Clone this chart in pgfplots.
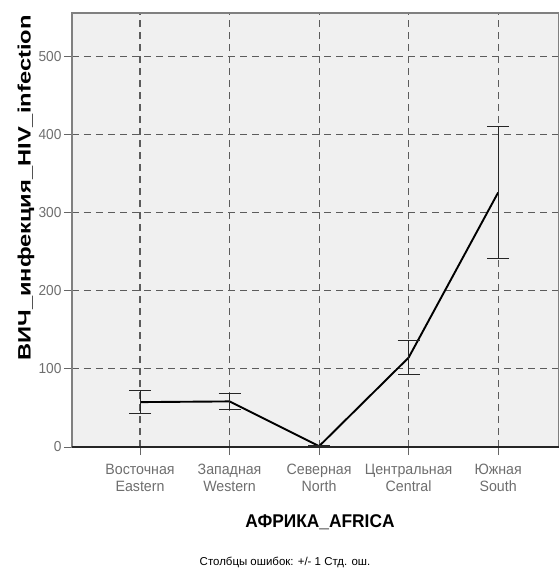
\documentclass[border=0pt]{standalone}
\usepackage{pgfplots}
\pgfplotsset{compat=1.18}
\usepackage{fontspec}
\setmainfont{Liberation Sans}
\newfontfamily\tickfont[FakeStretch=0.95]{Liberation Sans}
\newfontfamily\ylabfont[FakeStretch=1.32]{Liberation Sans}
\newfontfamily\xlabfont[FakeStretch=0.94]{Liberation Sans}
\definecolor{bgc}{HTML}{F0F0F0}
\definecolor{gridc}{HTML}{5C5C5C}
\definecolor{tickc}{HTML}{6E6E6E}
\begin{document}
\begin{tikzpicture}[x=1bp,y=1bp]
\begin{axis}[
  at={(0,0)}, anchor=south west,
  scale only axis, width=487bp, height=434bp,
  xmin=-0.76, xmax=4.68, ymin=0, ymax=556,
  xtick={0,1,2,3,4},
  xticklabels={{Восточная\\Eastern},{Западная\\Western},{Северная\\North},{Центральная\\Central},{Южная\\South}},
  xticklabel style={align=center, font=\tickfont\fontsize{15}{17}\selectfont, text=tickc, yshift=-6bp},
  ytick={0,100,200,300,400,500},
  yticklabel style={font=\tickfont\fontsize{14.5}{16}\selectfont, text=tickc, xshift=1bp},
  /pgf/number format/assume math mode=true,
  grid=major,
  grid style={gridc, line width=1.1bp, dash pattern=on 7bp off 5bp},
  axis background/.style={fill=bgc},
  axis line style={gray, line width=1.5bp},
  tick align=outside, major tick length=8bp,
  tick style={gray!80!black, line width=0.9bp},
  xtick pos=bottom, ytick pos=left,
  clip=false,
]
\addplot[black, line width=1.9bp, mark=none,
  error bars/.cd, y dir=both, y explicit,
  error bar style={black!85, line width=0.9bp},
  error mark options={rotate=90, black!85, line width=0.9bp, mark size=11bp}]
  coordinates {
    (0,57.5) +- (0,15)
    (1,58.4) +- (0,10)
    (2,1) +- (0,1)
    (3,114.5) +- (0,22)
    (4,326) +- (0,85)
  };
\draw[black!85, line width=1.2bp] (axis cs:-0.76,0) -- (axis cs:4.68,0);
\end{axis}
\node[rotate=90, font=\ylabfont\bfseries\fontsize{18}{20}\selectfont] at (-46,259) {ВИЧ\_инфекция\_HIV\_infection};
\node[font=\xlabfont\bfseries\fontsize{18.5}{20}\selectfont] at (248,-75) {АФРИКА\_AFRICA};
\node[font=\fontsize{11.5}{13}\selectfont] at (213,-115) {Столбцы ошибок: +/- 1 Стд. ош.};
\pgfresetboundingbox
\path (-72,-121) rectangle (487,447);
\end{tikzpicture}
\end{document}
